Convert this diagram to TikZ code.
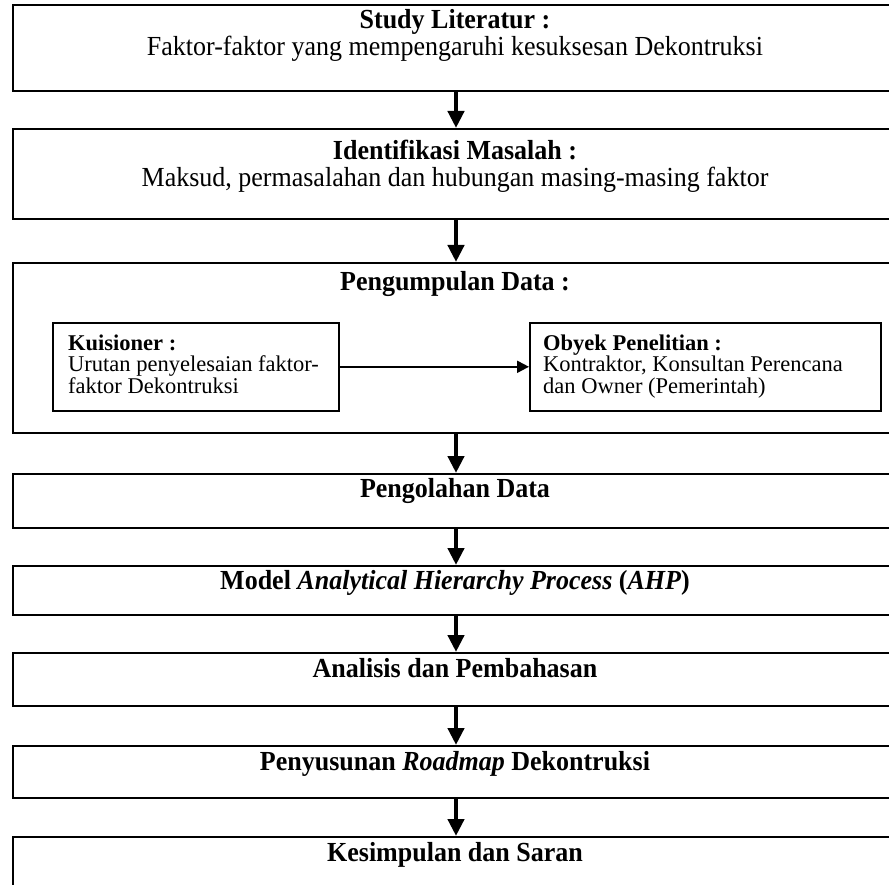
\documentclass[tikz,border=0pt]{standalone}
\usepackage{fontspec}
\setmainfont{Liberation Serif}
\usetikzlibrary{arrows.meta}
\begin{document}
\begin{tikzpicture}[x=1pt,y=1pt,
  box/.style={draw, line width=2pt, anchor=north west, minimum width=886pt, inner sep=0pt},
  ibox/.style={draw, line width=1.6pt, anchor=north west, inner sep=0pt},
  txt/.style={inner sep=0pt, yscale=1.06, transform shape},
  big/.style={txt, font=\fontsize{26}{26}\selectfont, anchor=base},
  bigb/.style={txt, font=\bfseries\fontsize{26}{26}\selectfont, anchor=base},
  sm/.style={inner sep=0pt, font=\fontsize{22.5}{22}\selectfont, anchor=base west},
  smb/.style={inner sep=0pt, font=\bfseries\fontsize{22.5}{22}\selectfont, anchor=base west},
  flow/.style={line width=4.5pt, -{Triangle[width=16pt,length=17pt]}},
  thin/.style={line width=2pt, -{Triangle[width=12pt,length=12pt]}}]
\useasboundingbox (0,0) rectangle (889,-885);
\clip (0,0) rectangle (889,-885);
\fill[white] (0,0) rectangle (889,-885);
% boxes
\node[box, minimum height=86pt] (b1) at (12,-4) {};
\node[box, minimum height=90pt] (b2) at (12,-128) {};
\node[box, minimum height=170pt] (b3) at (12,-262) {};
\node[box, minimum height=54pt] (b4) at (12,-473) {};
\node[box, minimum height=49pt] (b5) at (12,-565) {};
\node[box, minimum height=53pt] (b6) at (12,-652) {};
\node[box, minimum height=52pt] (b7) at (12,-745) {};
\node[box, minimum height=80pt] (b8) at (12,-836) {};
% inner boxes
\node[ibox, minimum width=286pt, minimum height=88pt] (k) at (52,-322) {};
\node[ibox, minimum width=351pt, minimum height=88pt] (o) at (529,-322) {};
% texts
\node[bigb] (t1a) at (455,-29) {Study Literatur :};
\node[big]  (t1b) at (455,-56) {Faktor-faktor yang mempengaruhi kesuksesan Dekontruksi};
\node[bigb] (t2a) at (455,-160) {Identifikasi Masalah :};
\node[big]  (t2b) at (455,-187) {Maksud, permasalahan dan hubungan masing-masing faktor};
\node[bigb] (t3a) at (455,-291) {Pengumpulan Data :};
\node[smb] (k1) at (68,-350) {Kuisioner :};
\node[sm]  (k2) at (68,-371.5) {Urutan penyelesaian faktor-};
\node[sm]  (k3) at (68,-393) {faktor Dekontruksi};
\node[smb] (o1) at (543,-350) {Obyek Penelitian :};
\node[sm]  (o2) at (543,-371.5) {Kontraktor, Konsultan Perencana};
\node[sm]  (o3) at (543,-393) {dan Owner (Pemerintah)};
\node[bigb] (t4) at (455,-497) {Pengolahan Data};
\node[bigb] (t5) at (455,-589) {Model \textit{Analytical Hierarchy Process} (\textit{AHP})};
\node[bigb] (t6) at (455,-677) {Analisis dan Pembahasan};
\node[bigb] (t7) at (455,-770) {Penyusunan \textit{Roadmap} Dekontruksi};
\node[bigb] (t8) at (455,-861) {Kesimpulan dan Saran};
% connectors
\draw[flow] (b1.south) -- (b2.north);
\draw[flow] (b2.south) -- (b3.north);
\draw[flow] (b3.south) -- (b4.north);
\draw[flow] (b4.south) -- (b5.north);
\draw[flow] (b5.south) -- (b6.north);
\draw[flow] (b6.south) -- (b7.north);
\draw[flow] (b7.south) -- (b8.north);
\draw[thin] (k.east) -- (o.west);
\end{tikzpicture}
\end{document}
